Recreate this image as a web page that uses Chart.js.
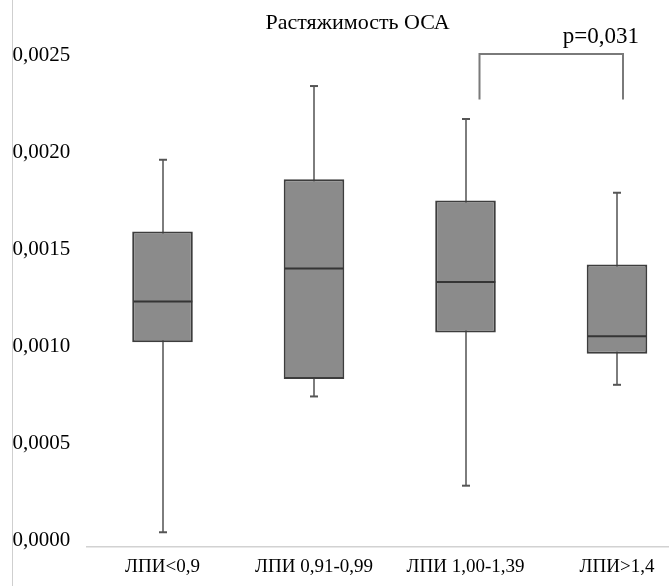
<!DOCTYPE html>
<html>
<head>
<meta charset="utf-8">
<script src="https://cdn.jsdelivr.net/npm/chart.js@4/dist/chart.umd.min.js"></script>
<style>
  html, body { margin: 0; padding: 0; background: #fff; }
  #wrap { position: relative; width: 669px; height: 586px; overflow: hidden; background: #fff; }
  #vline { position: absolute; left: 12px; top: 0; width: 1px; height: 586px; background: #cfcfcf; z-index: 2; }
  #c { position: absolute; left: 0; top: 0; }
</style>
</head>
<body>
<div id="wrap">
  <div id="vline"></div>
  <canvas id="c" width="702" height="586"></canvas>
</div>
<script>
// ---- data ----
const chartTitle = 'Растяжимость ОСА';
const categories = ['ЛПИ<0,9', 'ЛПИ 0,91-0,99', 'ЛПИ 1,00-1,39', 'ЛПИ>1,4'];
const whiskerMin = [0.00004, 0.00074, 0.00028, 0.00080];
const quartile1  = [0.00102, 0.00083, 0.00107, 0.00096];
const medians    = [0.00123, 0.00140, 0.00133, 0.00105];
const quartile3  = [0.00159, 0.00186, 0.00175, 0.00142];
const whiskerMax = [0.00196, 0.00234, 0.00217, 0.00179];
const yTickValues = [0, 0.0005, 0.0010, 0.0015, 0.0020, 0.0025];
const yTickLabels = ['0,0000', '0,0005', '0,0010', '0,0015', '0,0020', '0,0025'];
// significance annotation between groups 3 and 4
const sigGroups = [2, 3];
const sigText = 'p=0,031';
const sigTop = 0.0025;
const sigLegBottom = 0.00227;

const FONT = '"Liberation Serif", "Times New Roman", serif';

const boxPlugin = {
  id: 'boxWhiskers',
  afterLayout(chart) {
    // nudge the title box so its centre matches the reference
    if (chart.titleBlock) { chart.titleBlock.left += 10; }
  },
  beforeDatasetsDraw(chart) {
    const ctx = chart.ctx, x = chart.scales.x, y = chart.scales.y;
    ctx.save();
    ctx.strokeStyle = '#7d7d7d';
    ctx.lineWidth = 2;
    categories.forEach((c, i) => {
      const px = Math.round(x.getPixelForValue(i));
      ctx.beginPath();
      ctx.moveTo(px, y.getPixelForValue(whiskerMin[i]));
      ctx.lineTo(px, y.getPixelForValue(whiskerMax[i]));
      ctx.stroke();
    });
    ctx.restore();
  },
  afterDatasetsDraw(chart) {
    const ctx = chart.ctx, x = chart.scales.x, y = chart.scales.y;
    const meta = chart.getDatasetMeta(0);
    ctx.save();
    categories.forEach((c, i) => {
      const px = Math.round(x.getPixelForValue(i));
      const bar = meta.data[i];
      const half = bar.width / 2;
      // median
      ctx.strokeStyle = '#353535';
      ctx.lineWidth = 2;
      const my = y.getPixelForValue(medians[i]);
      ctx.beginPath();
      ctx.moveTo(px - half + 1, my);
      ctx.lineTo(px + half - 1, my);
      ctx.stroke();
      // caps
      ctx.strokeStyle = '#555';
      ctx.lineWidth = 2;
      [whiskerMin[i], whiskerMax[i]].forEach(v => {
        const cy = y.getPixelForValue(v);
        ctx.beginPath();
        ctx.moveTo(px - 4, cy);
        ctx.lineTo(px + 4, cy);
        ctx.stroke();
      });
    });
    // significance bracket
    const xa = x.getPixelForValue(sigGroups[0]) + 14;
    const xb = x.getPixelForValue(sigGroups[1]) + 6;
    const yt = y.getPixelForValue(sigTop) - 1;
    const yb = y.getPixelForValue(sigLegBottom);
    ctx.strokeStyle = '#7a7a7a';
    ctx.lineWidth = 2;
    ctx.beginPath();
    ctx.moveTo(xa, yb);
    ctx.lineTo(xa, yt);
    ctx.lineTo(xb, yt);
    ctx.lineTo(xb, yb);
    ctx.stroke();
    ctx.fillStyle = '#000';
    ctx.font = '23px ' + FONT;
    ctx.textAlign = 'right';
    ctx.textBaseline = 'middle';
    ctx.fillText(sigText, xb + 16, yt - 17);
    ctx.restore();
  }
};

new Chart(document.getElementById('c'), {
  type: 'bar',
  data: {
    labels: categories,
    datasets: [{
      data: categories.map((c, i) => [quartile1[i], quartile3[i]]),
      backgroundColor: '#8b8b8b',
      borderColor: '#3d3d3d',
      borderWidth: 2,
      borderSkipped: false,
      barPercentage: 0.4,
      categoryPercentage: 1.0
    }]
  },
  options: {
    responsive: false,
    animation: false,
    layout: { padding: { left: 12.5, right: 9.25, top: 0, bottom: 0 } },
    plugins: {
      legend: { display: false },
      tooltip: { enabled: false },
      title: {
        display: true,
        text: chartTitle,
        color: '#000',
        font: { family: FONT, size: 22, weight: 'normal' },
        padding: { top: 10, bottom: 18.6 }
      }
    },
    scales: {
      x: {
        grid: { display: false, drawTicks: false },
        border: { display: true, color: '#d2d2d2', width: 1.5 },
        ticks: { color: '#000', font: { family: FONT, size: 19 }, padding: 9, maxRotation: 0, autoSkip: false },
        afterFit(axis) { axis.height = 39; }
      },
      y: {
        min: -0.000036,
        max: 0.0025,
        grid: { display: false, drawTicks: false },
        border: { display: false },
        afterBuildTicks(axis) { axis.ticks = yTickValues.map(v => ({ value: v })); },
        ticks: {
          color: '#000',
          font: { family: FONT, size: 21 },
          padding: 0,
          crossAlign: 'far',
          callback(value) {
            const idx = yTickValues.findIndex(t => Math.abs(t - value) < 1e-9);
            return idx >= 0 ? yTickLabels[idx] : '';
          }
        },
        afterFit(axis) { axis.width = 74.25; }
      }
    }
  },
  plugins: [boxPlugin]
});
</script>
</body>
</html>
